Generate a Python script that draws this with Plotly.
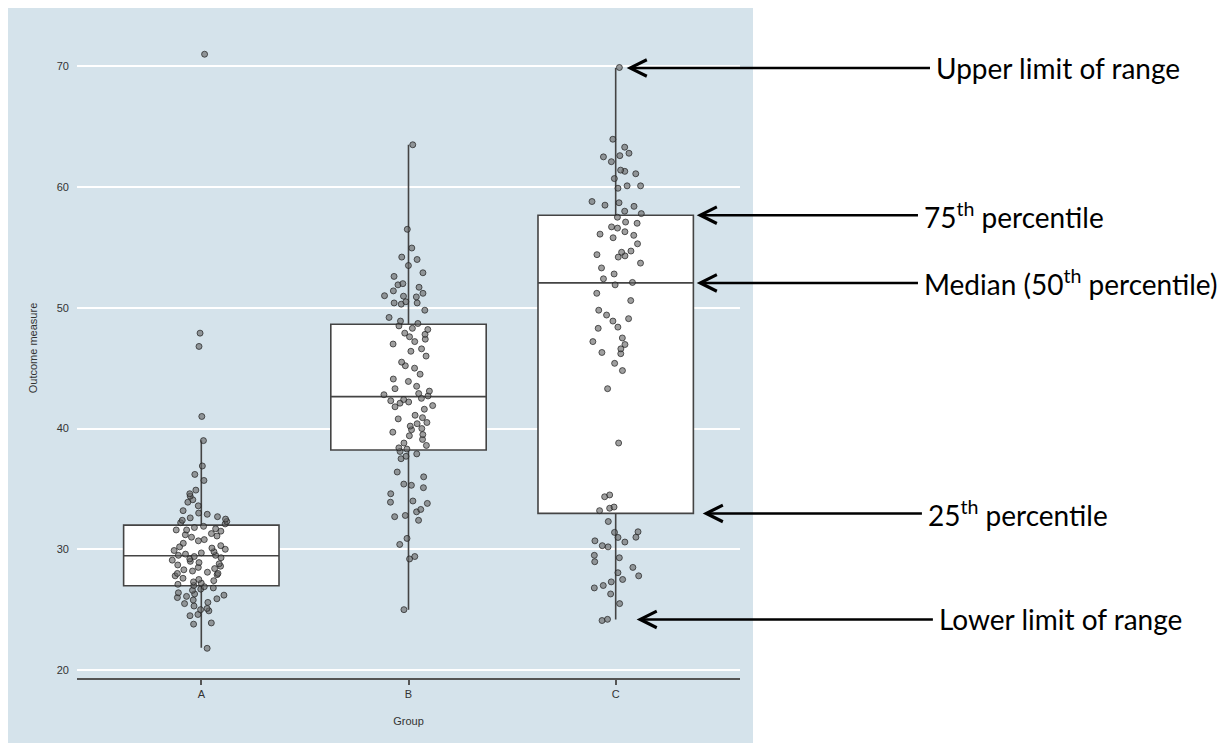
import plotly.graph_objects as go

# ---- data ----
groups = ["A", "B", "C"]
q1 = [26.98, 38.22, 32.97]
median = [29.46, 42.64, 52.06]
q3 = [32.0, 48.64, 57.67]
lowerfence = [21.85, 25.0, 24.19]
upperfence = [39.04, 63.5, 69.86]

vals_a = [71.0, 47.9, 46.8, 41.0,
          39.0, 36.9, 36.2, 35.7, 34.9, 34.6, 34.4, 34.1, 33.9, 33.6, 33.2, 33.0, 32.9, 32.7, 32.6, 32.5, 32.4, 32.3, 32.2, 32.1,
          31.9, 31.8, 31.7, 31.6, 31.6, 31.5, 31.3, 31.2, 31.1, 31.0, 30.8, 30.7, 30.5, 30.3, 30.2, 30.1, 30.0, 29.9, 29.8, 29.7, 29.6, 29.5, 29.5, 29.4,
          29.3, 29.2, 29.1, 29.0, 28.9, 28.8, 28.7, 28.6, 28.5, 28.4, 28.3, 28.2, 28.1, 28.0, 28.0, 27.9, 27.8, 27.6, 27.5, 27.4, 27.3, 27.2, 27.1, 27.0,
          26.9, 26.8, 26.7, 26.6, 26.4, 26.3, 26.2, 26.1, 26.0, 25.9, 25.8, 25.6, 25.5, 25.3, 25.1, 25.0, 24.9, 24.6, 24.5, 23.9, 23.8, 21.8]
vals_b = [63.5, 56.5, 54.95, 54.2, 54.0, 53.5, 52.9, 52.6, 51.9, 51.7, 51.4, 51.2, 50.96, 50.9, 50.5, 50.4, 50.3, 49.8, 49.2, 48.9, 48.7, 50.4, 51.0, 52.0,
          48.5, 48.3, 48.2, 47.8, 47.6, 47.4, 47.2, 47.0, 46.6, 46.4, 45.5, 45.2, 45.0, 44.1, 43.9, 43.5, 43.3, 43.1, 42.9, 42.8, 42.7, 44.5, 46.0, 47.9,
          42.5, 42.3, 42.2, 42.1, 41.9, 41.6, 41.1, 40.9, 40.5, 40.4, 40.2, 40.0, 39.7, 39.5, 39.4, 39.1, 38.8, 38.6, 38.4, 38.3, 42.4, 41.8, 40.8, 39.9,
          38.1, 37.9, 37.7, 37.5, 36.4, 35.4, 35.3, 35.1, 34.6, 33.9, 33.8, 33.3, 33.1, 32.7, 32.4, 30.9, 30.4, 29.4, 29.2, 25.0, 36.0, 34.0, 32.8]
vals_c = [69.9, 63.96, 63.3, 62.8, 62.6, 62.5, 62.1, 61.4, 61.3, 61.1, 60.7, 60.1, 60.1, 59.9, 58.8, 58.7, 58.5, 58.4, 58.0, 57.8,
          57.5, 57.1, 57.0, 56.7, 56.6, 56.3, 56.1, 56.0, 55.8, 55.3, 54.7, 54.6, 54.4, 54.3, 54.2, 53.7, 53.3, 52.8, 52.4, 52.1,
          51.9, 51.2, 50.6, 49.8, 49.4, 49.1, 48.9, 48.4, 48.3, 47.5, 47.2, 46.96, 46.6, 46.3, 46.2, 45.4, 44.8, 43.3, 38.8, 34.5, 34.35, 33.5, 33.4, 33.2,
          32.3, 31.45, 31.4, 31.0, 30.98, 30.7, 30.6, 30.3, 30.2, 29.5, 29.3, 28.97, 28.5, 28.06, 27.8, 27.5, 27.3, 27.0, 26.8, 26.3, 25.5, 24.2, 24.1]

y_ticks = [20, 30, 40, 50, 60, 70]

labels = ["Upper limit of range", "75<sup>th</sup> percentile", "Median (50<sup>th</sup> percentile)",
          "25<sup>th</sup> percentile", "Lower limit of range"]
label_values = [upperfence[2], q3[2], median[2], q1[2], lowerfence[2]]

BOX_W = 0.75
PANEL = "rgb(213,227,235)"

fig = go.Figure()

fig.add_trace(go.Box(
    x=groups, q1=q1, median=median, q3=q3,
    lowerfence=lowerfence, upperfence=upperfence,
    width=BOX_W, fillcolor="white", whiskerwidth=0,
    line=dict(color="#444444", width=1.6),
    boxpoints=False, hoverinfo="skip", showlegend=False,
))

px = ["A"] * len(vals_a) + ["B"] * len(vals_b) + ["C"] * len(vals_c)
py = vals_a + vals_b + vals_c
fig.add_trace(go.Box(
    x=px, y=py, width=BOX_W,
    boxpoints="all", jitter=0.38, pointpos=0,
    fillcolor="rgba(0,0,0,0)", line=dict(color="rgba(0,0,0,0)", width=0),
    marker=dict(size=6, color="rgba(100,100,100,0.62)",
                line=dict(color="rgba(30,30,30,0.7)", width=1)),
    hoverinfo="skip", showlegend=False,
))

# labelled arrows: head near group C, text box starts at the arrow tail
head_x = [2.053, 2.391, 2.391, 2.420, 2.101]
tail_x = [3.517, 3.459, 3.459, 3.478, 3.531]
for hx, tx, lab, yv in zip(head_x, tail_x, labels, label_values):
    fig.add_annotation(x=hx, y=yv, xref="x", yref="y", ax=tx, ay=yv, axref="x", ayref="y",
                       text=lab, showarrow=True, arrowhead=5, arrowsize=1.3, arrowwidth=2.5,
                       arrowcolor="black", standoff=0, xanchor="left", yanchor="middle",
                       borderpad=5,
                       font=dict(family="Lato, Open Sans, sans-serif", size=28, color="black"))

fig.add_shape(type="rect", xref="paper", yref="paper",
              x0=-0.1056, x1=1.0196, y0=-0.0985, y1=1.0197,
              fillcolor=PANEL, line=dict(width=0), layer="below")

fig.update_layout(
    width=1226, height=749,
    margin=dict(l=69, r=494, t=10, b=79),
    paper_bgcolor="white", plot_bgcolor="rgba(0,0,0,0)",
    boxmode="overlay", showlegend=False,
    font=dict(family="Liberation Sans, Arial, sans-serif", size=11, color="#333333"),
)
fig.update_xaxes(
    type="category", categoryorder="array", categoryarray=groups,
    range=[-0.6, 2.6], showgrid=False, zeroline=False,
    showline=True, linecolor="#555555", linewidth=1.5,
    ticks="outside", ticklen=5, tickwidth=1.5, tickcolor="#555555",
    tickfont=dict(size=11, color="#333333"),
    title=dict(text="Group", font=dict(size=11, color="#333333"), standoff=18),
)
fig.update_yaxes(
    range=[19.34, 74], tickvals=y_ticks, showgrid=True, gridcolor="white", gridwidth=2,
    zeroline=False, showline=False, ticks="", ticklabelstandoff=7,
    tickfont=dict(size=11, color="#333333"),
    title=dict(text="Outcome measure",
               font=dict(family="Liberation Sans Narrow, Liberation Sans, Arial, sans-serif", size=11, color="#333333"),
               standoff=16),
)

fig.write_html("out.html")
